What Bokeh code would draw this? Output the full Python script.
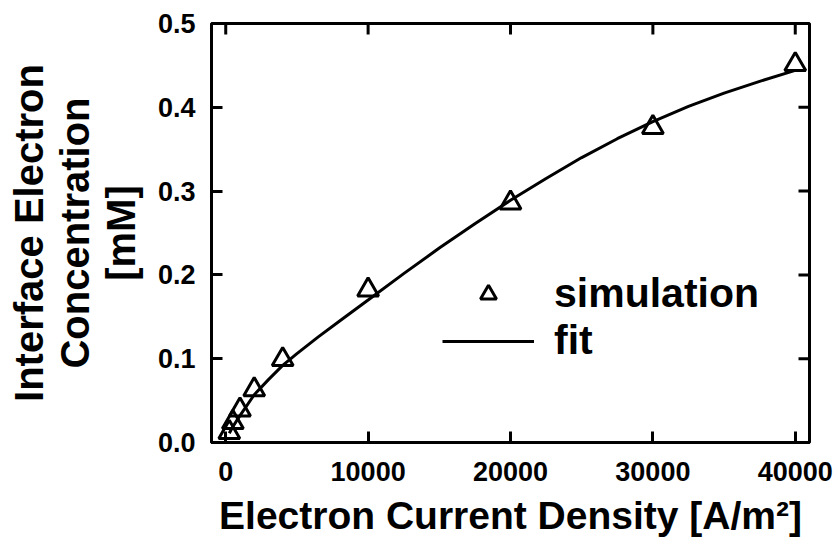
from bokeh.plotting import figure
from bokeh.models import Legend, LegendItem, FixedTicker, Range1d
from bokeh.embed import file_html
from bokeh.resources import INLINE

# Data
current_sim = [250, 500, 1000, 2000, 4000, 10000, 20000, 30000, 40000]
conc_sim = [0.012, 0.024, 0.039, 0.063, 0.099, 0.182, 0.286, 0.376, 0.451]

current_fit = [250, 500, 1000, 2000, 3000, 4000, 5000, 6500, 8000, 10000, 12500, 15000,
               17500, 20000, 22500, 25000, 27500, 30000, 32500, 35000, 37500, 40000]
conc_fit = [0.011, 0.019, 0.032, 0.057, 0.075, 0.092, 0.106, 0.126, 0.145, 0.170, 0.2015, 0.232,
            0.261, 0.289, 0.315, 0.340, 0.3625, 0.383, 0.401, 0.417, 0.431, 0.444]

x_ticks = [0, 10000, 20000, 30000, 40000]
x_tick_labels = ["0", "10000", "20000", "30000", "40000"]
y_ticks = [0.0, 0.1, 0.2, 0.3, 0.4, 0.5]
y_tick_labels = ["0.0", "0.1", "0.2", "0.3", "0.4", "0.5"]

x_min, x_max = -1000, 41000
y_min, y_max = 0.0, 0.5

FONT = "Liberation Sans"
W, H = 838, 551
BL, BR, BT, BB = 211, 29, 23, 109
TICK = 11  # px

p = figure(width=W, height=H, x_range=Range1d(x_min, x_max), y_range=Range1d(y_min, y_max),
           output_backend="svg", toolbar_location=None,
           min_border_left=BL, min_border_right=BR, min_border_top=BT, min_border_bottom=BB,
           x_axis_label="Electron Current Density [A/m²]",
           y_axis_label="Interface Electron\nConcentration\n[mM]")
p.grid.visible = False
p.outline_line_color = "black"
p.outline_line_width = 3
p.background_fill_color = "white"
p.border_fill_color = "white"


def style_axis(ax, ticks, labels):
    ax.ticker = FixedTicker(ticks=ticks)
    ax.axis_line_width = 3
    ax.axis_line_color = "black"
    ax.major_tick_in = TICK
    ax.major_tick_out = 0
    ax.major_tick_line_width = 3
    ax.major_tick_line_color = "black"
    ax.minor_tick_in = 0
    ax.minor_tick_out = 0
    ax.major_label_text_font = FONT
    ax.major_label_text_font_style = "bold"
    ax.major_label_text_color = "black"
    ax.major_label_overrides = {t: l for t, l in zip(ticks, labels)}
    ax.major_label_text_font_size = "27px"
    ax.axis_label_text_font = FONT
    ax.axis_label_text_font_style = "bold"
    ax.axis_label_text_color = "black"


style_axis(p.xaxis[0], x_ticks, x_tick_labels)
style_axis(p.yaxis[0], y_ticks, y_tick_labels)
p.xaxis[0].major_label_standoff = 19
p.yaxis[0].major_label_standoff = 16
p.xaxis[0].axis_label_text_font_size = "39px"
p.xaxis[0].axis_label_standoff = 10
p.yaxis[0].axis_label_text_font_size = "40px"
p.yaxis[0].axis_label_standoff = 12
p.yaxis[0].axis_label_text_line_height = 1.05

# mirrored inward ticks on the top and right frame edges (length converted from px)
frame_w = W - BL - BR
frame_h = H - BT - BB
dx = TICK * (x_max - x_min) / frame_w
dy = TICK * (y_max - y_min) / frame_h
p.segment(x0=x_ticks, y0=[y_max] * len(x_ticks), x1=x_ticks, y1=[y_max - dy] * len(x_ticks),
          line_color="black", line_width=3)
p.segment(x0=[x_max] * len(y_ticks), y0=y_ticks, x1=[x_max - dx] * len(y_ticks), y1=y_ticks,
          line_color="black", line_width=3)

fit_r = p.line(current_fit, conc_fit, line_color="black", line_width=3)
sim_r = p.scatter(current_sim, conc_sim, marker="triangle", size=21, line_color="black",
                  line_width=3, fill_alpha=0)

legend = Legend(items=[LegendItem(label="simulation", renderers=[sim_r]),
                       LegendItem(label="fit", renderers=[fit_r])],
                location=(231, 78), padding=0, margin=0, spacing=0,
                glyph_width=92, glyph_height=40, label_height=40, label_standoff=20,
                label_text_font=FONT, label_text_font_style="bold", label_text_font_size="41px",
                label_text_color="black", border_line_alpha=0, background_fill_alpha=0)
p.add_layout(legend)

open("out.html", "w").write(file_html(p, INLINE))
